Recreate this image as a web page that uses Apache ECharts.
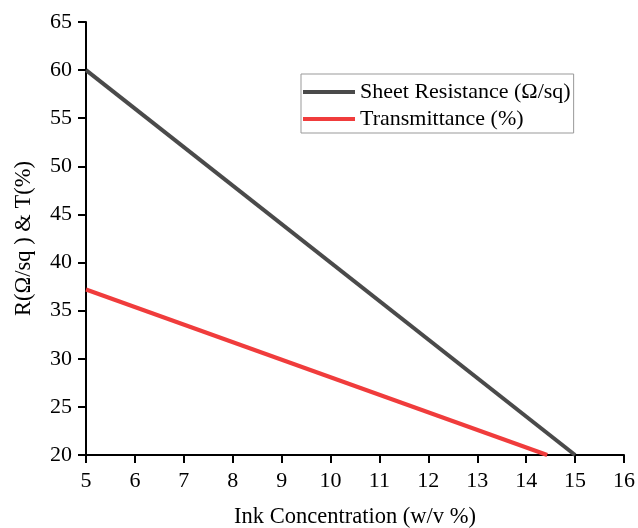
<!DOCTYPE html>
<html><head><meta charset="utf-8">
<script src="https://cdn.jsdelivr.net/npm/echarts@6/dist/echarts.min.js"></script>
<style>html,body{margin:0;padding:0;background:#fff}#c{width:638px;height:528px}</style>
</head><body><div id="c"></div>
<script>
const seriesNames = ['Sheet Resistance (Ω/sq)', 'Transmittance (%)'];
const resistance = [[5, 60], [15, 20]];
const transmittance = [[5, 37.2], [14.43, 20]];
const xTitle = 'Ink Concentration (w/v %)';
const yTitle = 'R(Ω/sq ) & T(%)';

const font = 'Liberation Serif, Times New Roman, serif';
const chart = echarts.init(document.getElementById('c'));
chart.setOption({
  animation: false,
  backgroundColor: '#fff',
  grid: { left: 86, right: 14, top: 22, bottom: 73, containLabel: false, outerBoundsMode: 'none' },
  legend: {
    orient: 'vertical', left: 301, top: 74,
    borderColor: '#999', borderWidth: 1, padding: [7, 3, 3, 2],
    itemWidth: 52, itemHeight: 4, itemGap: 5,
    textStyle: { fontFamily: font, fontSize: 22, color: '#000' },
    data: [{ name: seriesNames[0], icon: 'rect' }, { name: seriesNames[1], icon: 'rect' }]
  },
  xAxis: {
    type: 'value', min: 5, max: 16, interval: 1,
    name: xTitle, nameLocation: 'middle', nameGap: 51,
    nameTextStyle: { fontFamily: font, fontSize: 22.5, color: '#000' },
    axisLine: { show: true, lineStyle: { color: '#000', width: 2 } },
    axisTick: { show: true, inside: false, length: 8, lineStyle: { color: '#000', width: 2 } },
    axisLabel: { fontFamily: font, fontSize: 22, color: '#000', margin: 15 },
    splitLine: { show: false }
  },
  yAxis: {
    type: 'value', min: 20, max: 65, interval: 5,
    name: yTitle, nameLocation: 'middle', nameGap: 50, nameRotate: 90,
    nameTextStyle: { fontFamily: font, fontSize: 22.5, color: '#000' },
    axisLine: { show: true, lineStyle: { color: '#000', width: 2 } },
    axisTick: { show: true, inside: false, length: 8, lineStyle: { color: '#000', width: 2 } },
    axisLabel: { fontFamily: font, fontSize: 22, color: '#000', margin: 14 },
    splitLine: { show: false }
  },
  series: [
    { name: seriesNames[0], type: 'line', data: resistance, symbol: 'none',
      lineStyle: { color: '#4a4a4a', width: 4 }, itemStyle: { color: '#4a4a4a' } },
    { name: seriesNames[1], type: 'line', data: transmittance, symbol: 'none',
      lineStyle: { color: '#f03c3c', width: 4 }, itemStyle: { color: '#f03c3c' } }
  ]
});
</script></body></html>
